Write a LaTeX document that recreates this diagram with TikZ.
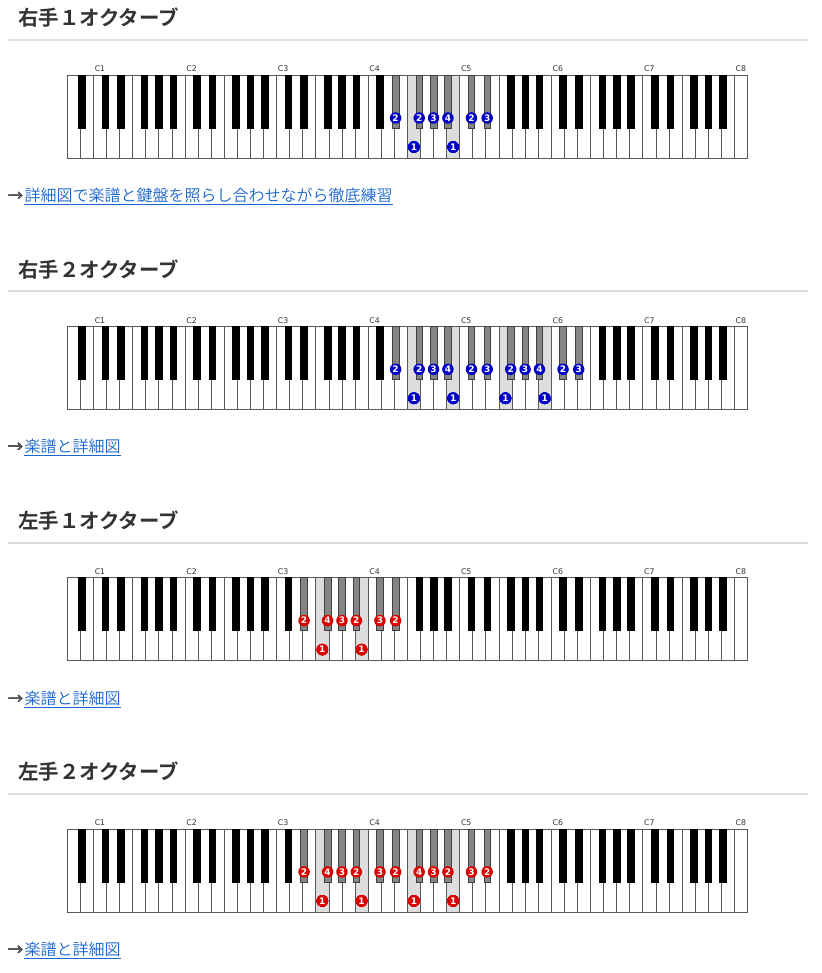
\documentclass[tikz,border=0pt]{standalone}
\usepackage{fontspec}
\setmainfont{Noto Sans CJK JP}
\newfontfamily\headfont{Noto Sans CJK JP Bold}
\newfontfamily\linkfont{Noto Sans CJK JP DemiLight}
\newfontfamily\keyfont{DejaVu Sans}
\usetikzlibrary{positioning}

\definecolor{headgray}{HTML}{333333}
\definecolor{arrowgray}{HTML}{555555}
\definecolor{rulegray}{HTML}{DDDDDD}
\definecolor{linkblue}{HTML}{1A66CC}
\definecolor{rhblue}{HTML}{0000C8}
\definecolor{lhred}{HTML}{DC0000}
\definecolor{shadewhite}{HTML}{DDDDDD}
\definecolor{shadeblack}{HTML}{858585}

\def\kx{67.3}
\def\kw{13.08}

\tikzset{
  heading/.style={anchor=west, inner sep=0pt, text=headgray,
    font=\headfont\fontsize{20.4}{21}\selectfont},
  sepline/.style={rulegray, line width=2pt},
  linkarrow/.style={anchor=west, inner sep=0pt, text=arrowgray,
    font=\linkfont\fontsize{15}{16}\selectfont},
  linktext/.style={inner sep=0pt, text=linkblue,
    font=\linkfont\fontsize{16}{16}\selectfont},
  linkline/.style={linkblue, line width=0.9pt},
  octlabel/.style={anchor=base, inner sep=0pt, text=headgray,
    font=\keyfont\fontsize{7.8}{8}\selectfont},
  whitekey/.style={draw=black!65, fill=white, line width=0.8pt},
  blackkey/.style={draw=black, fill=black, line width=0.6pt},
  graykey/.style={draw=black!75, fill=shadeblack, line width=0.6pt},
  finger/.style={circle, inner sep=0pt, minimum size=11.5pt, text=white,
    font=\keyfont\bfseries\fontsize{9}{9}\selectfont}
}

% keyboard: #1 top, #2 shaded white keys, #3 gray black keys
\newcommand{\drawkeyboard}[3]{%
  \begin{scope}[shift={(0,#1)}]
    \foreach \i in {0,...,51}
      \draw[whitekey] ({\kx+\i*\kw},0) rectangle +(\kw,83);
    \foreach \i in {#2}
      \draw[whitekey, fill=shadewhite] ({\kx+\i*\kw},0) rectangle +(\kw,83);
    \foreach \i in {0,...,50} {
      \pgfmathtruncatemacro\nt{mod(\i+5,7)}
      \pgfmathsetmacro\off{{-1.3,1.3,0,-1.3,0,1.3,0}[\nt]}
      \ifnum\nt=2\else\ifnum\nt=6\else
        \draw[blackkey] ({\kx+(\i+1)*\kw+\off-3.3},0) rectangle +(6.6,53);
      \fi\fi
    }
    \foreach \i in {#3} {
      \pgfmathtruncatemacro\nt{mod(\i+5,7)}
      \pgfmathsetmacro\off{{-1.3,1.3,0,-1.3,0,1.3,0}[\nt]}
      \draw[graykey] ({\kx+(\i+1)*\kw+\off-3.3},0) rectangle +(6.6,53);
    }
    \foreach \n in {1,...,8}
      \node[octlabel] at ({\kx+(2+7*(\n-1)+0.5)*\kw},-3) {C\n};
  \end{scope}}

% finger on a black key: #1 top, #2 colour, #3 name, #4 key, #5 number
\newcommand{\blackfinger}[5]{%
  \pgfmathtruncatemacro\nt{mod(#4+5,7)}
  \pgfmathsetmacro\off{{-1.3,1.3,0,-1.3,0,1.3,0}[\nt]}
  \node[finger, fill=#2] (#3) at ({\kx+(#4+1)*\kw+\off},#1+43) {#5};}
% finger on a white key
\newcommand{\whitefinger}[5]{%
  \node[finger, fill=#2] (#3) at ({\kx+(#4+0.5)*\kw},#1+72) {#5};}

\begin{document}
\begin{tikzpicture}[x=1pt,y=-1pt]
\useasboundingbox (0,0) rectangle (821,973);

% 右手１オクターブ
\node[heading] (headA) at (18,18) {右手１オクターブ};
\draw[sepline] (8,40) -- (808,40);
\drawkeyboard{75}{26,29}{24,26,27,28,30,31}
\foreach \i/\f in {24/2,26/2,27/3,28/4,30/2,31/3}
  \blackfinger{75}{rhblue}{fa\i}{\i}{\f}
\foreach \i in {26,29}
  \whitefinger{75}{rhblue}{wa\i}{\i}{1}
\node[linkarrow] (arrowA) at (8,197) {→};
\node[linktext, base right=1pt of arrowA] (linkA) {詳細図で楽譜と鍵盤を照らし合わせながら徹底練習};
\draw[linkline] ([yshift=-3pt]linkA.base west) -- ([yshift=-3pt]linkA.base east);

% 右手２オクターブ
\node[heading] (headB) at (18,269.3) {右手２オクターブ};
\draw[sepline] (8,291.3) -- (808,291.3);
\drawkeyboard{326.3}{26,29,33,36}{24,26,27,28,30,31,33,34,35,37,38}
\foreach \i/\f in {24/2,26/2,27/3,28/4,30/2,31/3,33/2,34/3,35/4,37/2,38/3}
  \blackfinger{326.3}{rhblue}{fb\i}{\i}{\f}
\foreach \i in {26,29,33,36}
  \whitefinger{326.3}{rhblue}{wb\i}{\i}{1}
\node[linkarrow] (arrowB) at (8,448.3) {→};
\node[linktext, base right=1pt of arrowB] (linkB) {楽譜と詳細図};
\draw[linkline] ([yshift=-3pt]linkB.base west) -- ([yshift=-3pt]linkB.base east);

% 左手１オクターブ
\node[heading] (headC) at (18,520.6) {左手１オクターブ};
\draw[sepline] (8,542.6) -- (808,542.6);
\drawkeyboard{577.6}{19,22}{17,19,20,21,23,24}
\foreach \i/\f in {17/2,19/4,20/3,21/2,23/3,24/2}
  \blackfinger{577.6}{lhred}{fc\i}{\i}{\f}
\foreach \i in {19,22}
  \whitefinger{577.6}{lhred}{wc\i}{\i}{1}
\node[linkarrow] (arrowC) at (8,699.6) {→};
\node[linktext, base right=1pt of arrowC] (linkC) {楽譜と詳細図};
\draw[linkline] ([yshift=-3pt]linkC.base west) -- ([yshift=-3pt]linkC.base east);

% 左手２オクターブ
\node[heading] (headD) at (18,771.9) {左手２オクターブ};
\draw[sepline] (8,793.9) -- (808,793.9);
\drawkeyboard{828.9}{19,22,26,29}{17,19,20,21,23,24,26,27,28,30,31}
\foreach \i/\f in {17/2,19/4,20/3,21/2,23/3,24/2,26/4,27/3,28/2,30/3,31/2}
  \blackfinger{828.9}{lhred}{fd\i}{\i}{\f}
\foreach \i in {19,22,26,29}
  \whitefinger{828.9}{lhred}{wd\i}{\i}{1}
\node[linkarrow] (arrowD) at (8,950.9) {→};
\node[linktext, base right=1pt of arrowD] (linkD) {楽譜と詳細図};
\draw[linkline] ([yshift=-3pt]linkD.base west) -- ([yshift=-3pt]linkD.base east);
\end{tikzpicture}
\end{document}
